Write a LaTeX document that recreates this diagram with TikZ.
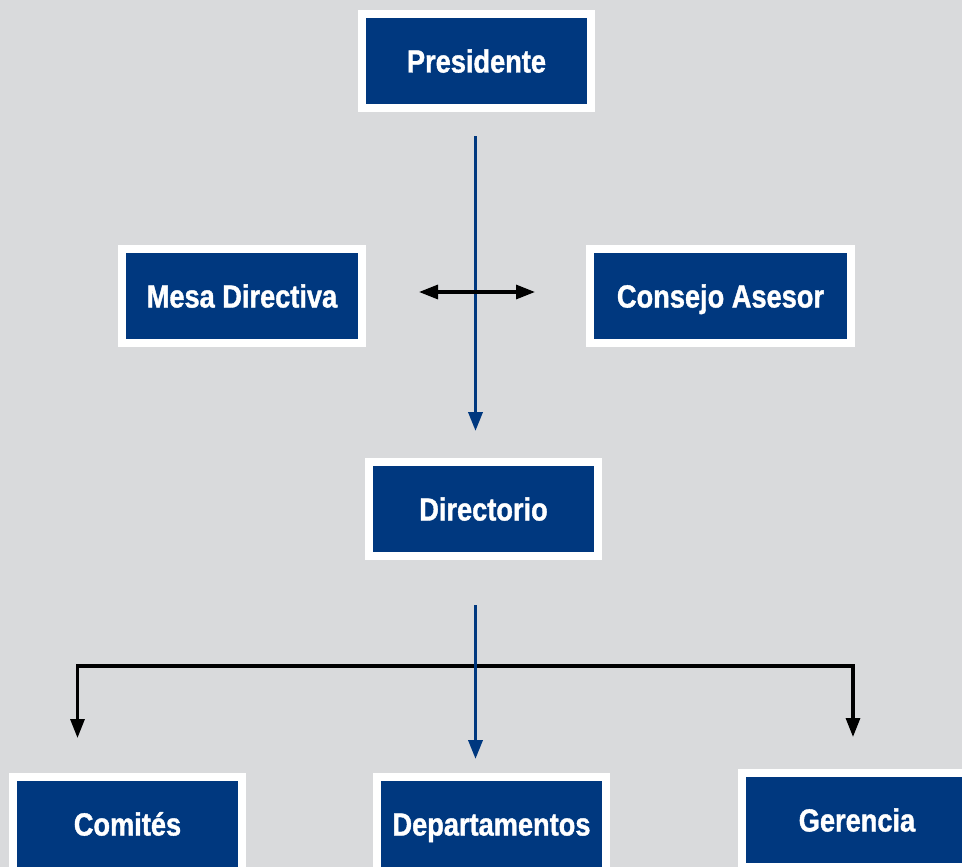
\documentclass[tikz,border=0pt]{standalone}
\usepackage{fontspec}
\newfontfamily\boxfont{Liberation Sans}[FakeStretch=0.85, BoldFeatures={FakeBold=1.2}]
\usetikzlibrary{arrows.meta}
\definecolor{bg}{HTML}{D9DADC}
\definecolor{orgblue}{HTML}{00387F}
\tikzset{
  orgbox/.style={rectangle, fill=orgblue, draw=white, line width=8pt,
    minimum height=94pt, inner sep=0pt, text=white,
    font=\boxfont\bfseries\fontsize{32}{38}\selectfont,
    text height=23pt, text depth=0pt},
  bluearrow/.style={draw=orgblue, line width=3.6pt, -{Triangle[length=19pt,width=14pt]}},
  blackline/.style={draw=black, line width=3.1pt},
  blackarrow/.style={blackline, -{Triangle[length=19pt,width=14pt]}},
  dblarrow/.style={blackline, {Triangle[length=19pt,width=14pt]}-{Triangle[length=19pt,width=14pt]}}
}
\begin{document}
\begin{tikzpicture}[x=1pt,y=-1pt]
\fill[bg] (0,0) rectangle (962,867);
\useasboundingbox (0,0) rectangle (962,867);
\begin{scope}
\clip (0,0) rectangle (962,867);
\node[orgbox, minimum width=229pt] (pres) at (476.5,61) {Presidente};
\node[orgbox, minimum width=240pt] (mesa) at (242,296) {Mesa Directiva};
\node[orgbox, minimum width=261pt] (cons) at (720.5,296) {Consejo Asesor};
\node[orgbox, minimum width=229pt] (dir) at (483.5,509) {Directorio};
\node[orgbox, minimum width=229pt] (com) at (127.5,824) {Comités};
\node[orgbox, minimum width=229pt] (dept) at (491.5,824) {Departamentos};
\node[orgbox, minimum width=230pt] (ger) at (857,820) {Gerencia};
\coordinate (split) at (475.5,666);
\coordinate (lt) at (77.5,666);
\coordinate (rt) at (853,666);
\draw[bluearrow, shorten <=24pt, shorten >=27pt] (pres.south -| split) -- (dir.north -| split);
\draw[dblarrow, shorten <=53pt, shorten >=51pt] ([yshift=4pt]mesa.east) -- ([yshift=4pt]cons.west);
\draw[blackarrow, shorten >=35pt] (split) -- (lt) -- (lt |- com.north);
\draw[blackarrow, shorten >=32pt] (split) -- (rt) -- (rt |- ger.north);
\draw[bluearrow, shorten <=45pt, shorten >=14pt] (dir.south -| split) -- (dept.north -| split);
\end{scope}
\end{tikzpicture}
\end{document}
